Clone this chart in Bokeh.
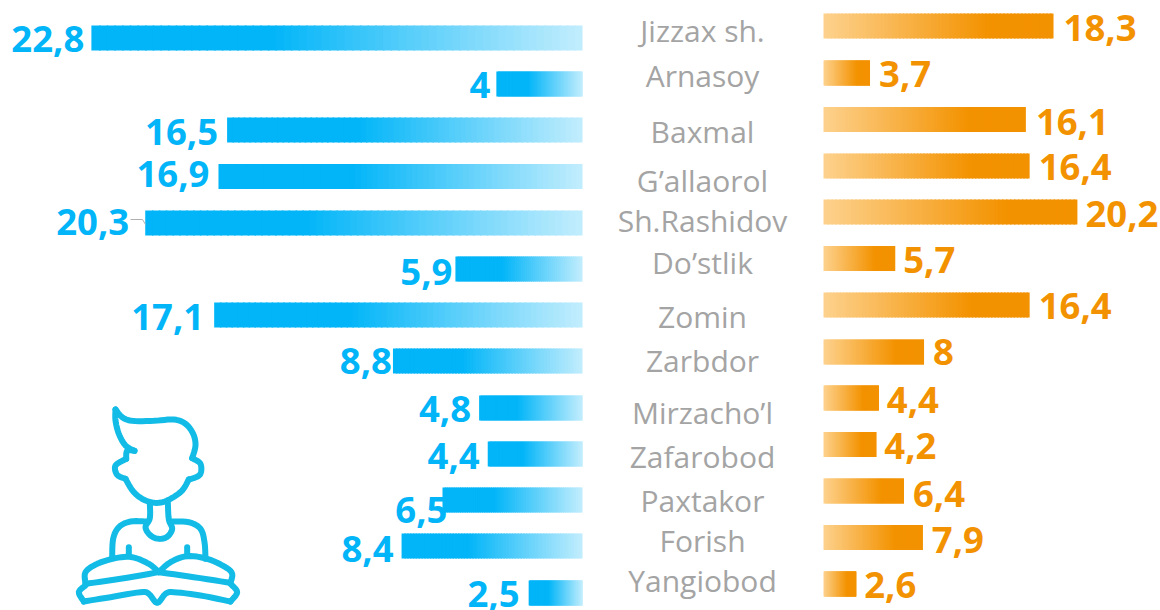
from bokeh.plotting import figure
from bokeh.models import Range1d, ColumnDataSource, LinearScale
from bokeh.core.properties import value
from bokeh.embed import file_html
from bokeh.resources import INLINE

# ---- data ----
districts = ["Jizzax sh.", "Arnasoy", "Baxmal", "G’allaorol", "Sh.Rashidov", "Do’stlik", "Zomin",
             "Zarbdor", "Mirzacho’l", "Zafarobod", "Paxtakor", "Forish", "Yangiobod"]
left_values = [22.8, 4, 16.5, 16.9, 20.3, 5.9, 17.1, 8.8, 4.8, 4.4, 6.5, 8.4, 2.5]
right_values = [18.3, 3.7, 16.1, 16.4, 20.2, 5.7, 16.4, 8, 4.4, 4.2, 6.4, 7.9, 2.6]

# ---- layout (page pixels) ----
W, H = 1160, 610
left_zero, left_scale = 582.0, 21.54
right_zero, right_scale = 823.0, 12.57
bar_h = 25
left_row_y = [37.5, 83.5, 129.5, 176, 222.5, 268.5, 314.5, 360.5, 407.5, 453.5, 499.5, 545.5, 592.5]
right_row_y = [25.5, 72.5, 119, 165.5, 211.5, 258, 304.5, 351.5, 397.5, 444, 490.5, 537, 583.5]
left_gap = [7, 6, 9, 9, 16, 3, 10, 1, 8, 8, -5, 8, 9]
left_base = [52, 98, 145, 187, 235, 285, 330, 374, 422, 469, 523, 562, 607]
right_gap = [10, 9, 10, 9, 8, 8, 9, 9, 8, 8, 9, 9, 8]
right_base = [41, 87, 135, 180, 227, 273, 319, 365, 413, 459, 507, 553, 598]
label_base = [42, 87, 143, 192, 232, 274, 328, 372, 424, 468, 512, 552, 592]
label_x = 702
value_lift, label_lift = -14, -12

BLUE, BLUE_END = (2, 181, 248), (197, 238, 253)
ORANGE, ORANGE_START = (243, 146, 0), (253, 209, 140)
BLUE_SOLID, ORANGE_SOLID = 0.36, 0.71
STEPS = 64
OVERLAP_PX = 1.5


def mix(a, b, t):
    t = max(0.0, min(1.0, t))
    return "#%02x%02x%02x" % tuple(round(a[i] + (b[i] - a[i]) * t) for i in range(3))


p = figure(width=W, height=H, output_backend="svg", toolbar_location=None,
           x_range=Range1d(0, W), y_range=Range1d(H, 0),
           min_border=0, outline_line_color=None, border_fill_color=None,
           background_fill_color=None, x_axis_type=None, y_axis_type=None)
p.grid.visible = False
p.extra_x_ranges = {
    "left": Range1d(left_zero / left_scale, (left_zero - W) / left_scale),
    "right": Range1d(-right_zero / right_scale, (W - right_zero) / right_scale),
}
p.extra_x_scales = {"left": LinearScale(), "right": LinearScale()}

# each bar is a run of short adjoining pieces, which gives it its colour ramp
l_seg = dict(y=[], left=[], right=[], color=[])
for v, y in zip(left_values, left_row_y):
    for k in range(STEPS):
        f = k / STEPS
        l_seg["y"].append(y)
        l_seg["left"].append(v * (1 - f))
        l_seg["right"].append(max(0, v * (1 - (k + 1) / STEPS) - OVERLAP_PX / left_scale))
        l_seg["color"].append(mix(BLUE, BLUE_END, (f - BLUE_SOLID) / (1 - BLUE_SOLID)))
p.hbar(y="y", left="left", right="right", height=bar_h, fill_color="color", line_color=None,
       source=ColumnDataSource(l_seg), x_range_name="left")

r_seg = dict(y=[], left=[], right=[], color=[])
for v, y in zip(right_values, right_row_y):
    for k in range(STEPS):
        f = k / STEPS
        r_seg["y"].append(y)
        r_seg["left"].append(v * f)
        r_seg["right"].append(min(v, v * (k + 1) / STEPS + OVERLAP_PX / right_scale))
        r_seg["color"].append(mix(ORANGE_START, ORANGE, f / ORANGE_SOLID))
p.hbar(y="y", left="left", right="right", height=bar_h, fill_color="color", line_color=None,
       source=ColumnDataSource(r_seg), x_range_name="right")


def fmt(v):
    return str(v).replace(".", ",")


p.text(x=left_values, y=left_base, text=[fmt(v) for v in left_values], x_offset=[-g for g in left_gap],
       y_offset=value_lift, x_range_name="left", text_align="right", text_baseline="alphabetic",
       text_font=value("Open Sans"), text_font_style="bold", text_font_size="36.5px", text_color="#02b5f8")
p.text(x=right_values, y=right_base, text=[fmt(v) for v in right_values], x_offset=right_gap,
       y_offset=value_lift, x_range_name="right", text_align="left", text_baseline="alphabetic",
       text_font=value("Open Sans"), text_font_style="bold", text_font_size="36.5px", text_color="#f39200")
p.text(x=[label_x] * len(districts), y=label_base, text=districts, y_offset=label_lift, text_align="center",
       text_baseline="alphabetic", text_font=value("Open Sans"), text_font_size="30px", text_color="#a4a4a4")

# leader line at 20,3
p.line(x=[130, 142, 145], y=[219, 219, 224], line_color="#b0b0b0", line_width=1)


def smooth(pts, n=6):
    out = []
    P = [pts[0]] + pts + [pts[-1]]
    for i in range(1, len(P) - 2):
        for j in range(n):
            t = j / n
            q = []
            for d in (0, 1):
                a, b, c, e = P[i - 1][d], P[i][d], P[i + 1][d], P[i + 2][d]
                q.append(0.5 * (2 * b + (c - a) * t + (2 * a - 5 * b + 4 * c - e) * t * t + (3 * b - a - 3 * c + e) * t ** 3))
            out.append(q)
    out.append(list(pts[-1]))
    return out


icon_paths = [
    [(165, 42), (185, 65), (215, 76), (280, 76), (340, 72), (375, 85), (398, 115), (405, 150), (395, 188)],
    [(395, 188), (420, 205), (418, 238), (385, 252)],
    [(385, 252), (365, 285), (330, 310), (295, 322), (255, 315), (220, 290), (195, 250)],
    [(195, 250), (170, 238), (165, 210), (197, 190)],
    [(197, 190), (200, 166), (222, 166)],
    [(222, 166), (195, 150), (175, 115), (165, 75), (165, 42)],
    [(268, 322), (268, 368), (255, 395), (270, 420), (295, 430), (320, 424), (335, 400), (325, 372), (322, 322)],
    [(258, 378), (210, 378), (175, 395), (158, 430), (155, 485)],
    [(330, 378), (385, 380), (420, 400), (432, 440), (435, 490)],
    [(205, 455), (205, 480)],
    [(380, 455), (380, 480)],
    [(295, 530), (265, 505), (215, 485), (165, 488), (110, 505), (75, 530), (75, 565)],
    [(75, 565), (180, 550), (295, 530)],
    [(295, 530), (330, 500), (380, 482), (440, 490), (495, 515), (515, 535), (510, 562)],
    [(510, 562), (400, 545), (295, 530)],
    [(75, 570), (55, 590), (70, 618)],
    [(70, 618), (150, 605), (240, 590), (265, 595), (290, 622), (315, 595), (340, 590), (420, 600), (510, 618)],
    [(510, 618), (530, 590), (510, 565)],
]
for path in icon_paths:
    s = smooth(path)
    p.line(x=[60 + q[0] / 3 for q in s], y=[395 + q[1] / 3 for q in s], line_color="#12bce6",
           line_width=6, line_cap="round", line_join="round")

open("out.html", "w").write(file_html(p, INLINE))
